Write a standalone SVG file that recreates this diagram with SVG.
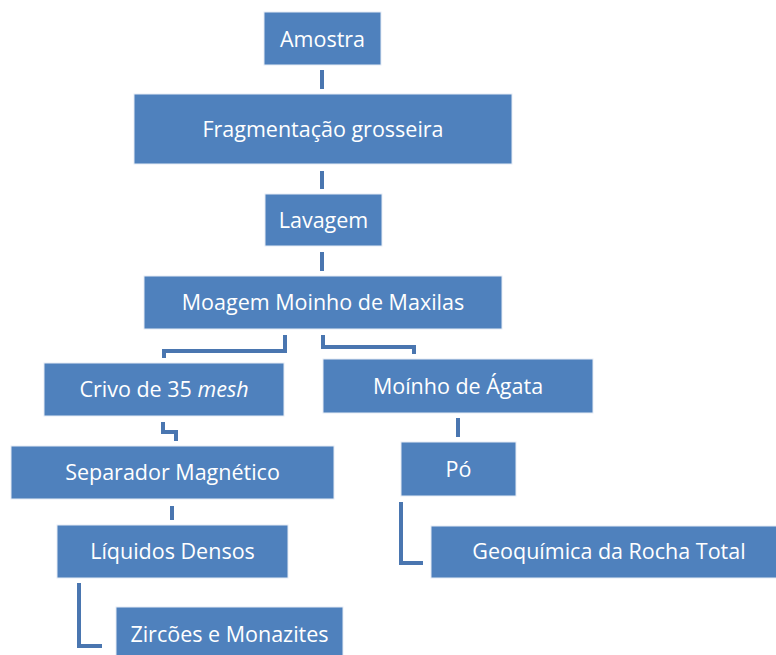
<svg xmlns="http://www.w3.org/2000/svg" width="776" height="655" viewBox="0 0 776 655">
<style>
.box{fill:#4f81bd;stroke:#e6ecf5;stroke-width:1}
.t{fill:#ffffff;font-family:"Open Sans","Liberation Sans",sans-serif;font-size:21.5px;text-anchor:middle;dominant-baseline:central}
.c{fill:none;stroke:#4a76b0;stroke-width:4}
</style>
<rect width="776" height="655" fill="#ffffff"/>
<g id="connectors">
<path class="c" d="M322,70 V89"/>
<path class="c" d="M322,171 V189"/>
<path class="c" d="M322,252 V271"/>
<path class="c" d="M285,335 V351 H164 V358"/>
<path class="c" d="M323,335 V347 H414 V354"/>
<path class="c" d="M163,422 V432 H176 V441"/>
<path class="c" d="M172,506 V520"/>
<path class="c" d="M79,583 V646 H102"/>
<path class="c" d="M458,418 V437"/>
<path class="c" d="M401,502 V563 H423"/>
</g>
<g id="amostra"><rect class="box" x="264" y="12" width="117" height="53"/><text class="t" x="322.5" y="38">Amostra</text></g>
<g id="fragmentacao"><rect class="box" x="134" y="94" width="378" height="70"/><text class="t" x="323" y="128">Fragmentação grosseira</text></g>
<g id="lavagem"><rect class="box" x="265" y="194" width="117" height="52"/><text class="t" x="323.5" y="219">Lavagem</text></g>
<g id="moagem"><rect class="box" x="144" y="276" width="358" height="53"/><text class="t" x="323" y="301">Moagem Moinho de Maxilas</text></g>
<g id="crivo"><rect class="box" x="44" y="363" width="240" height="53"/><text class="t" x="164" y="388">Crivo de 35 <tspan font-style="italic">mesh</tspan></text></g>
<g id="agata"><rect class="box" x="323" y="359" width="270" height="54"/><text class="t" x="458" y="385">Moínho de Ágata</text></g>
<g id="separador"><rect class="box" x="11" y="446" width="323" height="53"/><text class="t" x="172.5" y="471">Separador Magnético</text></g>
<g id="liquidos"><rect class="box" x="57" y="525" width="231" height="53"/><text class="t" x="172.5" y="550">Líquidos Densos</text></g>
<g id="zircoes"><rect class="box" x="116" y="607" width="227" height="50"/><text class="t" x="229.5" y="633">Zircões e Monazites</text></g>
<g id="po"><rect class="box" x="401" y="442" width="115" height="54"/><text class="t" x="458.5" y="468">Pó</text></g>
<g id="geoquimica"><rect class="box" x="431" y="526" width="346" height="52"/><text class="t" x="609" y="550">Geoquímica da Rocha Total</text></g>
</svg>
